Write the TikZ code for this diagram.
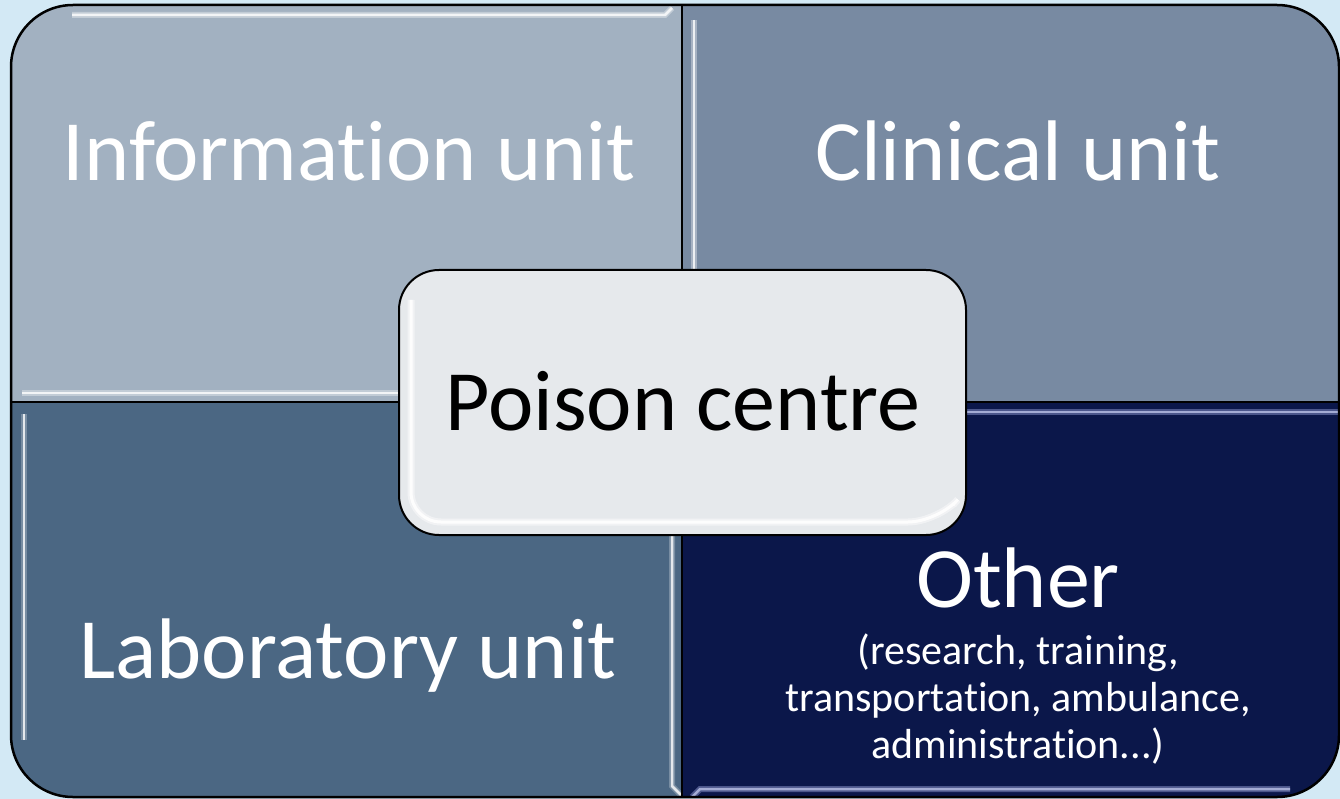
\documentclass[tikz,border=0pt]{standalone}
\usepackage{fontspec}
\setmainfont[RawFeature={-liga,-clig,-calt,-dlig,-rlig,-ccmp}]{Carlito}
\definecolor{pagebg}{RGB}{211,233,245}
\definecolor{qinfo}{RGB}{162,177,193}
\definecolor{qclin}{RGB}{120,138,162}
\definecolor{qlab}{RGB}{75,103,131}
\definecolor{qother}{RGB}{11,23,74}
\definecolor{hubfill}{RGB}{230,233,236}
\definecolor{glowlav}{RGB}{140,150,205}
\tikzset{
  unitlabel/.style={anchor=base, text=white, font=\fontsize{86}{100}\selectfont, inner sep=0pt},
  smalllabel/.style={anchor=base, text=white, font=\fontsize{42}{47}\selectfont, inner sep=0pt},
  hub/.style={draw=black, line width=2pt, fill=hubfill, rounded corners=40pt},
  shine/.style={line width=6pt, white, opacity=0.35, postaction={draw, line width=2.5pt, white, opacity=0.8}},
  shinelav/.style={line width=6pt, glowlav, opacity=0.5, postaction={draw, line width=2.5pt, glowlav!70!white, opacity=0.9}},
  divider/.style={draw=black, line width=2pt},
}
\begin{document}
\begin{tikzpicture}[x=1pt,y=-1pt]
\useasboundingbox (0,0) rectangle (1340,799);
\fill[pagebg] (0,0) rectangle (1340,799);

% four quadrants clipped by the rounded frame
\begin{scope}
  \clip[rounded corners=62pt] (11,5) rectangle (1339,797);
  \fill[qinfo]  (11,5)    rectangle (682,402);
  \fill[qclin]  (682,5)   rectangle (1339,402);
  \fill[qlab]   (11,402)  rectangle (682,797);
  \fill[qother] (682,402) rectangle (1339,797);
  % bevel highlights
  \draw[shine] (72,15) -- (665,15) -- (672,8);
  \draw[shine] (22,393) -- (682,393);
  \draw[shine] (694,20) -- (694,380);
  \draw[shine, opacity=0.25] (24,414) -- (24,740);
  \draw[shine, opacity=0.25] (672,402) -- (672,786) -- (681,795);
  \draw[shinelav] (682,412) -- (1339,412);
  \draw[shinelav] (692,797) -- (700,789) -- (1290,789);
\end{scope}
\draw[divider] (682,5) -- (682,797);
\draw[divider] (11,402) -- (1339,402);
\draw[line width=2.5pt, rounded corners=62pt] (11,5) rectangle (1339,797);

% unit labels
\node[unitlabel] (info) at (349,181) {Information unit};
\node[unitlabel] (clin) at (1018,181) {Clinical unit};
\node[unitlabel] (lab) at (348,678) {Laboratory unit};
\node[unitlabel] (other) at (1018,607) {Other};
\node[smalllabel] (oth1) at (1018,664) {(research, training,};
\node[smalllabel] (oth2) at (1018,711) {transportation, ambulance,};
\node[smalllabel] (oth3) at (1018,758) {administration...)};

% central hub
\draw[hub] (399,270) rectangle (966,535);
\draw[white, line width=7pt, opacity=0.45, rounded corners=30pt] (411,300) -- (411,522) -- (938,522) -- (953,505);
\draw[white, line width=3pt, opacity=0.9, rounded corners=30pt] (411,300) -- (411,522) -- (938,522) -- (953,505);
\node[anchor=base, text=black, font=\fontsize{86}{100}\selectfont, inner sep=0pt] (hub) at (683,430) {Poison centre};
\end{tikzpicture}
\end{document}
